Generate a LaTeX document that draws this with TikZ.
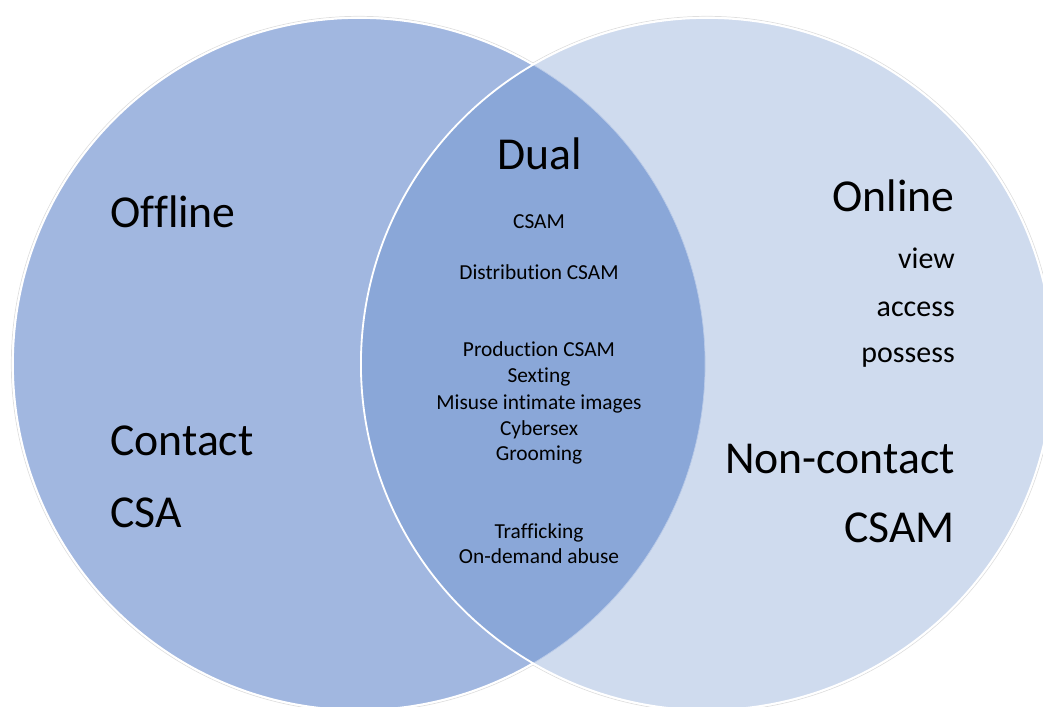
\documentclass[tikz,border=0pt]{standalone}
\usepackage{fontspec}
\setmainfont{Carlito}[Ligatures=NoCommon]
\definecolor{offlineblue}{HTML}{A1B7E0}
\definecolor{onlineblue}{HTML}{CFDBEE}
\definecolor{dualblue}{HTML}{8AA7D8}

\begin{document}
\begin{tikzpicture}[x=0.025cm, y=-0.025cm]

\tikzset{big/.style = {font=\fontsize{32.5}{38}\selectfont, inner sep=0pt}}
\tikzset{mid/.style = {font=\fontsize{21.3}{25}\selectfont, inner sep=0pt}}
\tikzset{small/.style = {font=\fontsize{15.2}{18}\selectfont, inner sep=0pt, anchor=base}}
\tikzset{rim/.style = {draw=white, line width=1.3pt}}
\useasboundingbox (0,0) rectangle (1043,707);
% circles
\coordinate (lc) at (359,364);
\coordinate (rc) at (707,364);
\fill[offlineblue] (lc) circle (8.65cm);
\fill[onlineblue] (rc) circle (8.65cm);
\begin{scope}
  \clip (lc) circle (8.65cm);
  \fill[dualblue] (rc) circle (8.65cm);
\end{scope}
\begin{scope}
  \clip (0,0) rectangle (533,707);
  \draw[gray!25, line width=0.5pt] (lc) circle (8.69cm);
  \draw[rim] (lc) circle (8.65cm);
\end{scope}
\begin{scope}
  \clip (533,0) rectangle (1043,707);
  \draw[white!40!dualblue, line width=0.5pt] (lc) circle (8.65cm);
  \draw[gray!25, line width=0.5pt] (rc) circle (8.69cm);
\end{scope}
\draw[rim] (rc) circle (8.65cm);
% offline side
\node[big, anchor=base west] (offline) at (110,228) {Offline};
\node[big, anchor=base west] (contact) at (110,455) {Contact};
\node[big, anchor=base west] (csa) at (110,527) {CSA};
% dual
\node[big, anchor=base] (dual) at (540,170) {Dual};
\node[small] (csam) at (539,229) {CSAM};
\node[small] (distribution) at (539,280) {Distribution CSAM};
\node[small] (production) at (539,357) {Production CSAM};
\node[small] (sexting) at (539,383) {Sexting};
\node[small] (misuse) at (539,409) {Misuse intimate images};
\node[small] (cybersex) at (539,435) {Cybersex};
\node[small] (grooming) at (539,460) {Grooming};
\node[small] (trafficking) at (539,538) {Trafficking};
\node[small] (ondemand) at (539,563) {On-demand abuse};
% online side
\node[big, anchor=base east] (online) at (955,212) {Online};
\node[mid, anchor=base east] (view) at (955,269) {view};
\node[mid, anchor=base east] (access) at (955,317) {access};
\node[mid, anchor=base east] (possess) at (955,363) {possess};
\node[big, anchor=base east] (noncontact) at (955,473) {Non-contact};
\node[big, anchor=base east] (csamnc) at (955,542) {CSAM};

\end{tikzpicture}
\end{document}
